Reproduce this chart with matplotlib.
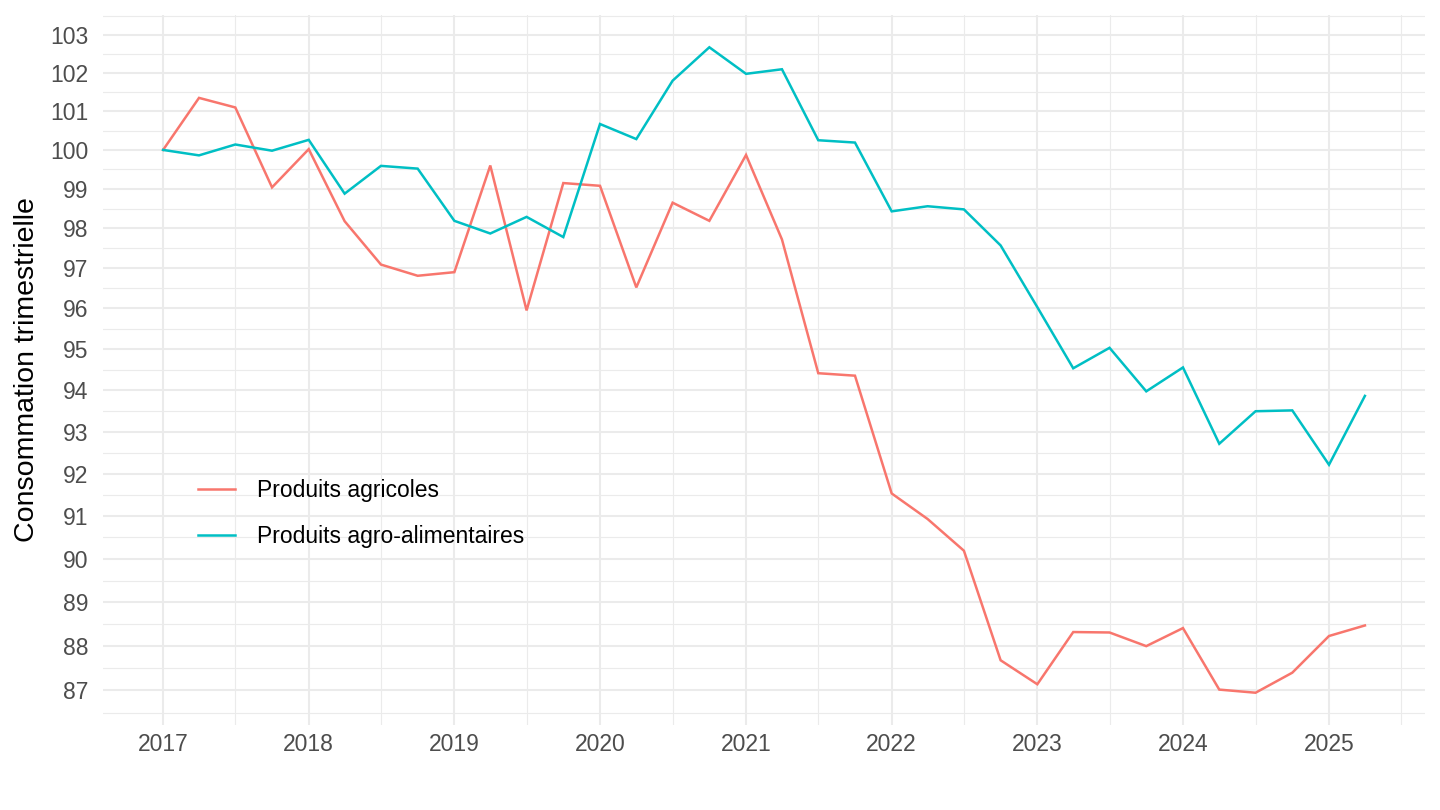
import numpy as np
import pandas as pd
import matplotlib
matplotlib.use("Agg")
import matplotlib.pyplot as plt
import matplotlib.dates as mdates
from matplotlib.ticker import FixedLocator, NullFormatter

# quarterly index, base 100 = 2017Q1
quarters = pd.date_range("2017-01-01", periods=34, freq="QS")

agricoles = [
    100.00, 101.35, 101.10, 99.04,
    100.02, 98.18, 97.09, 96.81,
    96.90, 99.60, 95.95, 99.15,
    99.08, 96.52, 98.65, 98.19,
    99.87, 97.72, 94.41, 94.35,
    91.53, 90.93, 90.19, 87.68,
    87.14, 88.32, 88.31, 88.00,
    88.41, 87.02, 86.95, 87.40,
    88.23, 88.47,
]

agro_alimentaires = [
    100.00, 99.86, 100.14, 99.98,
    100.26, 98.88, 99.59, 99.52,
    98.19, 97.87, 98.29, 97.78,
    100.67, 100.28, 101.80, 102.68,
    101.98, 102.10, 100.25, 100.19,
    98.43, 98.56, 98.48, 97.57,
    96.03, 94.53, 95.03, 93.97,
    94.55, 92.71, 93.49, 93.51,
    92.21, 93.86,
]

series_names = ["Produits agricoles", "Produits agro-alimentaires"]
series_colors = ["#F8766D", "#00BFC4"]
y_breaks = list(range(87, 104))
years = list(range(2017, 2026))

plt.rcParams["font.family"] = ["Liberation Sans", "DejaVu Sans"]

fig = plt.figure(figsize=(14.4, 8.1), dpi=100)
ax = fig.add_axes([103 / 1440, 1 - 725 / 810, (1425 - 103) / 1440, (725 - 15) / 810])

for vals, name, col in zip([agricoles, agro_alimentaires], series_names, series_colors):
    ax.plot(quarters, vals, color=col, lw=1.8, label=name, solid_joinstyle="miter")

# log y scale, ggplot-like expansion (5% in transformed space)
ax.set_yscale("log")
all_vals = np.array(agricoles + agro_alimentaires)
lo, hi = np.log10(all_vals.min()), np.log10(all_vals.max())
pad = 0.05 * (hi - lo)
ax.set_ylim(10 ** (lo - pad), 10 ** (hi + pad))
ax.yaxis.set_major_locator(FixedLocator(y_breaks))
ax.yaxis.set_major_formatter(plt.FuncFormatter(lambda v, p: f"{v:.0f}"))
edges = np.log10(np.arange(85, 106))
ax.yaxis.set_minor_locator(FixedLocator(10 ** ((edges[:-1] + edges[1:]) / 2)))
ax.yaxis.set_minor_formatter(NullFormatter())

# x axis: dates, 5% expansion
x0 = mdates.date2num(quarters[0])
x1 = mdates.date2num(quarters[-1])
xpad = 0.05 * (x1 - x0)
ax.set_xlim(x0 - xpad, x1 + xpad)
ax.xaxis.set_major_locator(FixedLocator([mdates.date2num(pd.Timestamp(f"{y}-01-01")) for y in years]))
ax.xaxis.set_major_formatter(mdates.DateFormatter("%Y"))
ax.xaxis.set_minor_locator(FixedLocator([mdates.date2num(pd.Timestamp(f"{y}-07-01")) for y in range(2016, 2026)]))

# theme_minimal look
ax.grid(which="major", color="#EBEBEB", lw=1.5)
ax.grid(which="minor", color="#EBEBEB", lw=0.8)
ax.set_axisbelow(True)
for s in ax.spines.values():
    s.set_visible(False)
ax.tick_params(which="both", length=0)
ax.tick_params(axis="both", labelsize=16.5, labelcolor="#4D4D4D")
ax.tick_params(axis="x", pad=6)
ax.tick_params(axis="y", pad=10.5)

ax.set_ylabel("Consommation trimestrielle", fontsize=20.5, color="black", labelpad=7)
ax.set_xlabel("")

ax.legend(loc="upper left", bbox_to_anchor=(0.056, 0.376), frameon=False, fontsize=16.5,
          handlelength=1.65, handletextpad=0.95, labelspacing=1.0)

fig.savefig("out.png", dpi=100)
